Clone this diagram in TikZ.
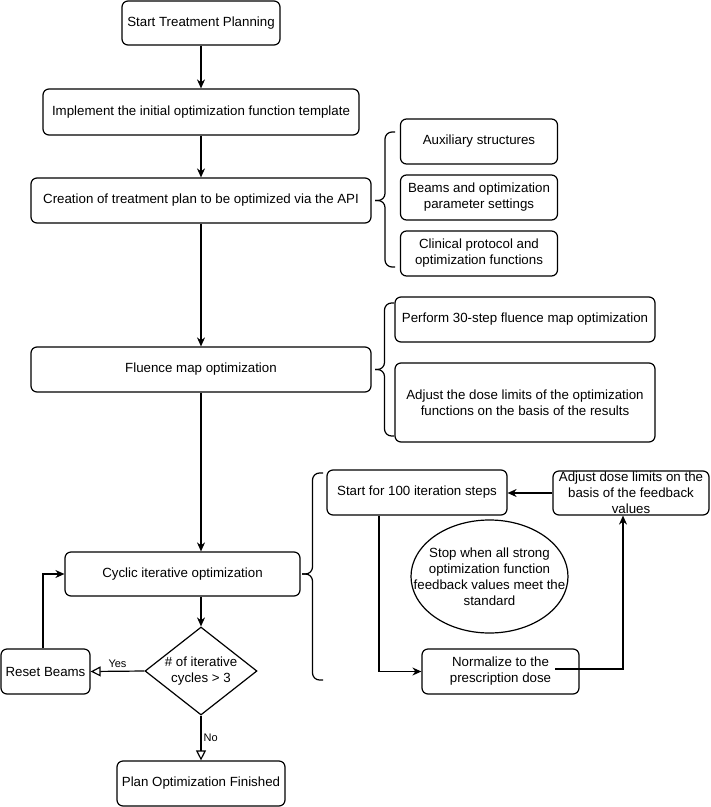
\documentclass[tikz,border=0pt]{standalone}
\usepackage{fontspec}
\setmainfont{Liberation Sans}
\usetikzlibrary{shapes.geometric, arrows.meta, calc}
\newcommand\mybrace[5]{% xl xr ytop ymid ybot
  \draw[brc] (#2,#3) -- ({(#1+#2)/2},#3) -- ({(#1+#2)/2},#4) -- (#1,#4);
  \draw[brc] (#2,#5) -- ({(#1+#2)/2},#5) -- ({(#1+#2)/2},#4) -- (#1,#4);
}
\begin{document}
\begin{tikzpicture}[x=1pt, y=-1pt,
  lw/.style={line width=1.2pt},
  box/.style={draw, lw, rounded corners=6pt, align=center, inner sep=0pt,
    font=\fontsize{13.3}{16}\selectfont},
  txt/.style={align=center, inner sep=0pt, font=\fontsize{13.3}{16}\selectfont},
  small/.style={inner sep=1pt, font=\fontsize{11}{13}\selectfont},
  arr/.style={lw, -{Stealth[length=9pt,width=8pt]}},
  openarr/.style={lw, -{Triangle[open,length=10pt,width=10pt]}},
  brc/.style={lw, rounded corners=7pt},
]
\useasboundingbox (0,0) rectangle (711,807);

% main column
\node[box, minimum width=158pt, minimum height=44pt] (start) at (201,23) {Start Treatment Planning};
\node[box, minimum width=316pt, minimum height=46pt] (impl) at (201,112) {Implement the initial optimization function template};
\node[box, minimum width=340pt, minimum height=45pt] (create) at (201,200.5) {Creation of treatment plan to be optimized via the API};
\node[box, minimum width=340pt, minimum height=45pt] (fluence) at (201,369.5) {Fluence map optimization};
\node[box, minimum width=235pt, minimum height=44pt] (cyclic) at (182.5,574) {Cyclic iterative optimization};
\node[draw, lw, diamond, minimum width=112pt, minimum height=88pt, inner sep=0pt,
  label={[txt]center:\# of iterative\\cycles > 3}] (dia) at (201,671) {};
\node[box, minimum width=89pt, minimum height=45pt] (reset) at (45.5,671.5) {Reset Beams};
\node[box, minimum width=168pt, minimum height=45pt] (finish) at (201,783.5) {Plan Optimization Finished};

% side boxes, first group
\node[box, minimum width=157pt, minimum height=45pt] (aux) at (479,141.5) {Auxiliary structures};
\node[box, minimum width=157pt, minimum height=45pt] (beams) at (479,197.5) {Beams and optimization\\parameter settings};
\node[box, minimum width=157pt, minimum height=45pt] (clin) at (479,253.5) {Clinical protocol and\\optimization functions};

% side boxes, second group
\node[box, minimum width=260pt, minimum height=45pt] (perform) at (525,319.5) {Perform 30-step fluence map optimization};
\node[box, minimum width=260pt, minimum height=79pt] (adjust) at (525,402.5) {Adjust the dose limits of the optimization\\functions on the basis of the results};

% third group
\node[box, minimum width=180pt, minimum height=45pt] (startit) at (417,492.5) {Start for 100 iteration steps};
\node[box, minimum width=156pt, minimum height=44pt,
  label={[txt]center:Adjust dose limits on the\\basis of the feedback\\values}] (adjust2) at (631,493) {};
\node[draw, lw, ellipse, minimum width=157pt, minimum height=113pt, inner sep=0pt,
  label={[txt]center:Stop when all strong\\optimization function\\feedback values meet the\\standard}] (stop) at (489.5,576.5) {};
\node[box, minimum width=157pt, minimum height=45pt] (norm) at (500.5,671.5) {Normalize to the\\prescription dose};

% braces
\mybrace{375}{395}{132}{200.5}{267}
\mybrace{375}{394}{303}{369.5}{436}
\mybrace{302}{323}{473}{574}{680}

% connectors
\draw[arr] (start) -- (impl);
\draw[arr] (impl) -- (create);
\draw[arr] (create) -- (fluence);
\draw[arr] (fluence.south) -- (fluence.south |- cyclic.north);
\draw[arr] (cyclic.south -| dia.north) -- (dia.north);
\draw[openarr] (dia.west) -- node[small, above=2pt, pos=0.5] {Yes} (reset.east);
\draw[openarr] (dia.south) -- node[small, right=1pt, pos=0.5] {No} (finish.north);
\draw[arr] ($(reset.north)+(-2.5,0)$) |- (cyclic.west);

\draw[arr] (adjust2.west) -- (adjust2.west -| startit.east);
\draw[arr] ($(startit.south)+(-38,0)$) |- (norm.west);
\draw[arr] ($(norm.center)+(54.5,-2.5)$) -| ($(adjust2.south)+(-8,0)$);
\end{tikzpicture}
\end{document}
